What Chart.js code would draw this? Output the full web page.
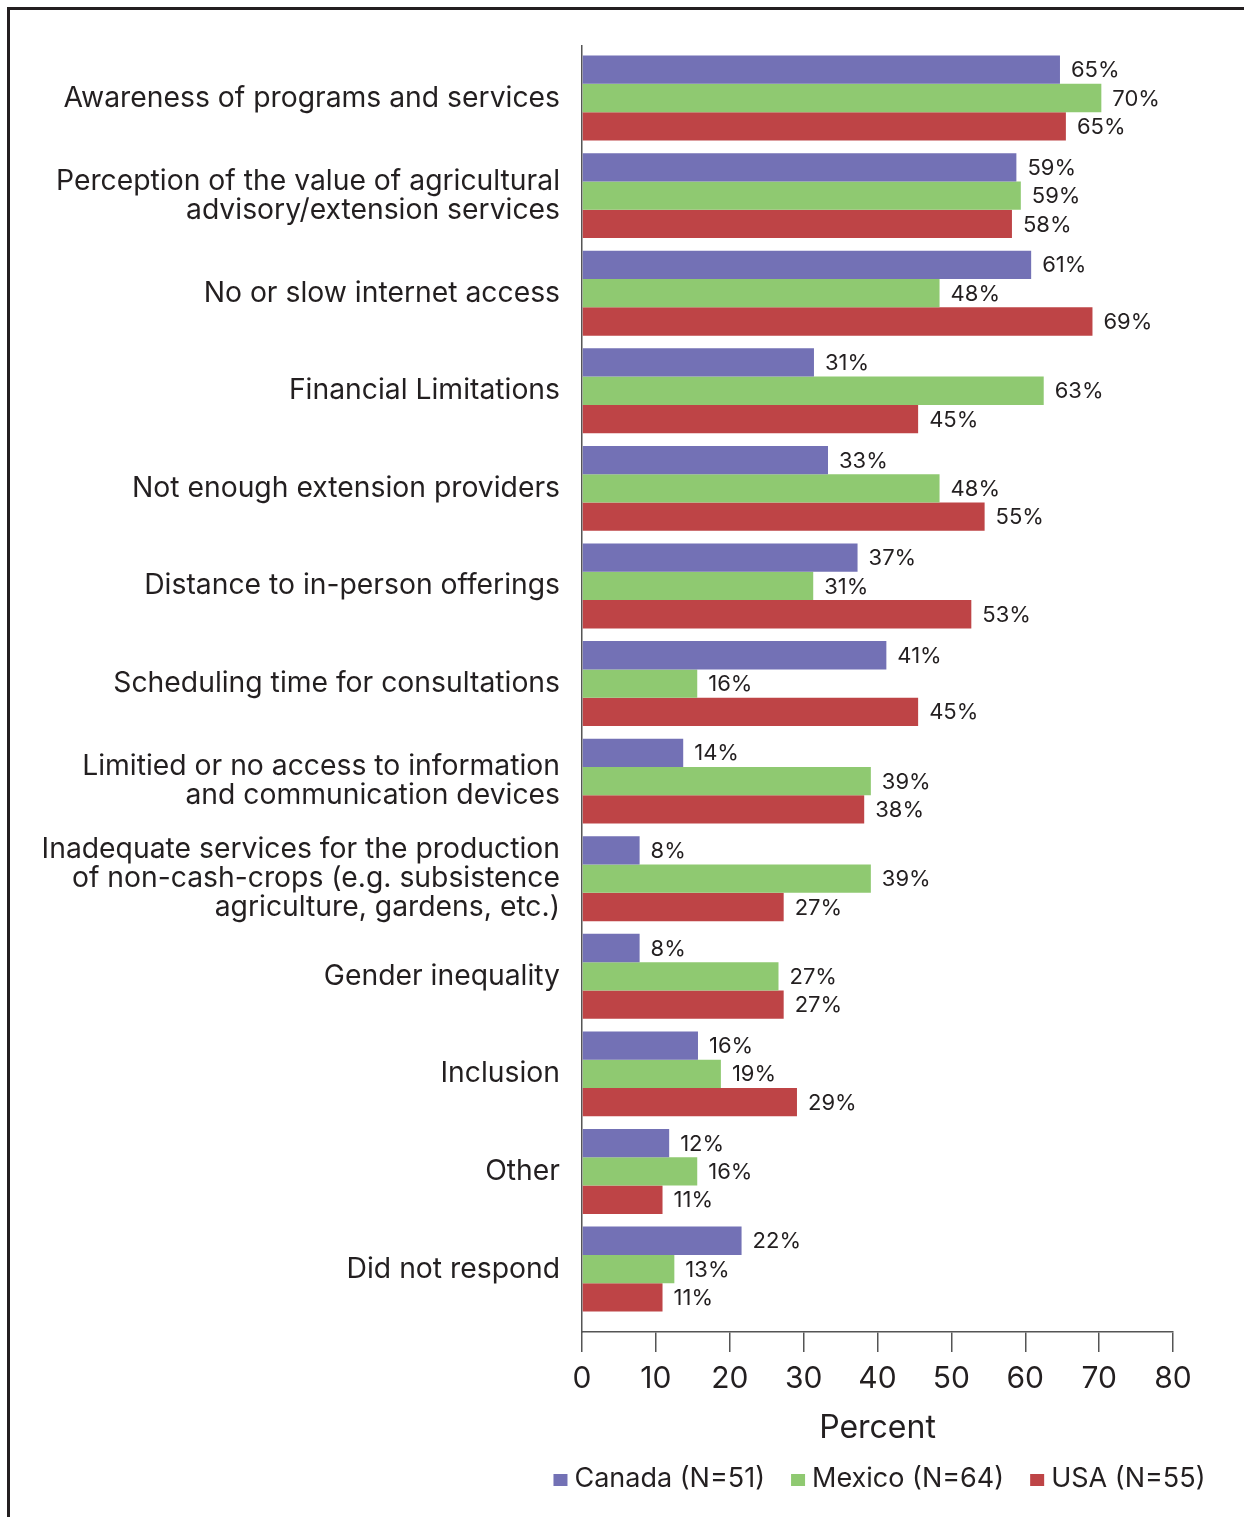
<!DOCTYPE html>
<html>
<head>
<meta charset="utf-8">
<script src="https://cdn.jsdelivr.net/npm/chart.js@4/dist/chart.umd.min.js"></script>
<style>
  html, body { margin: 0; padding: 0; background: #fff; }
  #wrap { position: relative; width: 1244px; height: 1517px; overflow: hidden; }
  #frame { position: absolute; left: 7px; top: 7px; width: 1244px; height: 1520px;
           border-top: 3px solid #231f20; border-left: 3px solid #231f20; box-sizing: border-box; }
  canvas { position: absolute; left: 0; top: 0; }
</style>
</head>
<body>
<div id="wrap">
  <div id="frame"></div>
  <canvas id="c" width="1244" height="1517"></canvas>
</div>
<script>
const categories = [
  'Awareness of programs and services',
  ['Perception of the value of agricultural', 'advisory/extension services'],
  'No or slow internet access',
  'Financial Limitations',
  'Not enough extension providers',
  'Distance to in-person offerings',
  'Scheduling time for consultations',
  ['Limitied or no access to information', 'and communication devices'],
  ['Inadequate services for the production', 'of non-cash-crops (e.g. subsistence', 'agriculture, gardens, etc.)'],
  'Gender inequality',
  'Inclusion',
  'Other',
  'Did not respond'
];
const seriesNames = ['Canada (N=51)', 'Mexico (N=64)', 'USA (N=55)'];
const canadaValues = [64.7, 58.8, 60.8, 31.4, 33.3, 37.3, 41.2, 13.7, 7.8, 7.8, 15.7, 11.8, 21.6];
const mexicoValues = [70.3, 59.4, 48.4, 62.5, 48.4, 31.3, 15.6, 39.1, 39.1, 26.6, 18.8, 15.6, 12.5];
const usaValues    = [65.5, 58.2, 69.1, 45.5, 54.5, 52.7, 45.5, 38.2, 27.3, 27.3, 29.1, 10.9, 10.9];
const canadaLabels = ['65%','59%','61%','31%','33%','37%','41%','14%','8%','8%','16%','12%','22%'];
const mexicoLabels = ['70%','59%','48%','63%','48%','31%','16%','39%','39%','27%','19%','16%','13%'];
const usaLabels    = ['65%','58%','69%','45%','55%','53%','45%','38%','27%','27%','29%','11%','11%'];
const xTicks = [0, 10, 20, 30, 40, 50, 60, 70, 80];

const colors = ['#7371B5', '#8FC971', '#BE4446'];
const allValues = [canadaValues, mexicoValues, usaValues];
const allLabels = [canadaLabels, mexicoLabels, usaLabels];
const FONT = 'Inter, Roboto, "Liberation Sans", sans-serif';
const TEXT = '#231f20';

const datasets = allValues.map((vals, s) => ({
  label: seriesNames[s],
  data: vals.map((v, i) => ({ x: v, y: i })),
  backgroundColor: colors[s],
  borderWidth: 0,
  categoryPercentage: 0.87,
  barPercentage: 1.0
}));

const valueLabelPlugin = {
  id: 'valueLabels',
  afterDatasetsDraw(chart) {
    const ctx = chart.ctx;
    ctx.save();
    ctx.font = '22px ' + FONT;
    ctx.fillStyle = TEXT;
    ctx.textAlign = 'left';
    ctx.textBaseline = 'middle';
    chart.data.datasets.forEach((ds, s) => {
      const meta = chart.getDatasetMeta(s);
      meta.data.forEach((bar, i) => {
        ctx.fillText(allLabels[s][i], bar.x + 11, bar.y + 1);
      });
    });
    ctx.restore();
  }
};

const legendPlugin = {
  id: 'customLegend',
  afterDraw(chart) {
    const ctx = chart.ctx;
    const area = chart.chartArea;
    ctx.save();
    ctx.font = '27px ' + FONT;
    ctx.textBaseline = 'middle';
    ctx.textAlign = 'left';
    const box = 14, boxH = 12, gapText = 7, gapItem = 26;
    const widths = chart.data.datasets.map(d => box + gapText + ctx.measureText(d.label).width);
    const total = widths.reduce((a, b) => a + b, 0) + gapItem * (widths.length - 1);
    let x = (area.left + area.right) / 2 + 2 - total / 2;
    const y = 1479;
    chart.data.datasets.forEach((d, i) => {
      ctx.fillStyle = d.backgroundColor;
      ctx.fillRect(x, y - boxH / 2 + 1, box, boxH);
      ctx.fillStyle = TEXT;
      ctx.fillText(d.label, x + box + gapText, y);
      x += widths[i] + gapItem;
    });
    ctx.restore();
  }
};

new Chart(document.getElementById('c'), {
  type: 'bar',
  data: { datasets },
  plugins: [valueLabelPlugin, legendPlugin],
  options: {
    indexAxis: 'y',
    responsive: false,
    animation: false,
    layout: { padding: { left: 0, right: 71, top: 46, bottom: 0 } },
    plugins: {
      legend: { display: false },
      tooltip: { enabled: false }
    },
    scales: {
      x: {
        type: 'linear',
        min: 0,
        max: 80,
        afterBuildTicks(scale) { scale.ticks = xTicks.map(v => ({ value: v })); },
        afterFit(scale) { scale.height = 185; },
        grid: { display: true, drawOnChartArea: false, drawTicks: true, tickLength: 20, color: '#555', lineWidth: 1.5 },
        border: { display: true, color: '#555', width: 1.5 },
        ticks: { color: TEXT, padding: 9, font: { family: FONT, size: 30 } },
        title: { display: true, text: 'Percent', color: TEXT, font: { family: FONT, size: 32 }, padding: { top: 0, bottom: 69 } }
      },
      y: {
        type: 'linear',
        reverse: true,
        offset: false,
        bounds: 'data',
        grace: 0,
        min: -0.533,
        max: 12.645,
        afterBuildTicks(scale) { scale.ticks = categories.map((c, i) => ({ value: i })); },
        afterFit(scale) { scale.width = 582; },
        grid: { display: false, drawTicks: false, offset: false },
        border: { display: true, color: '#555', width: 1.5 },
        ticks: {
          color: TEXT,
          padding: 22,
          autoSkip: false,
          font: { family: FONT, size: 28.3, lineHeight: 1.03 },
          callback: (v) => categories[v]
        }
      }
    }
  }
});
</script>
</body>
</html>
